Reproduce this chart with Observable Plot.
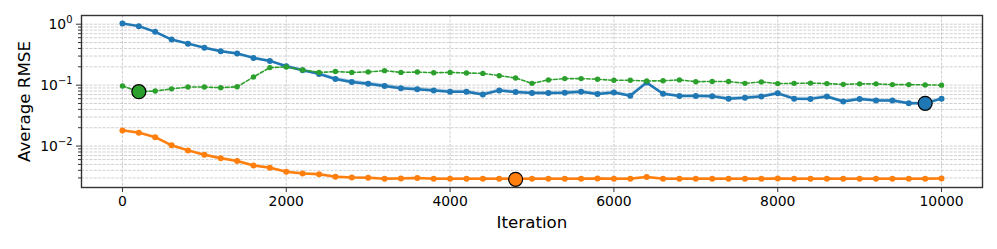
<!DOCTYPE html>
<html>
<head>
<meta charset="utf-8">
<script src="https://cdn.jsdelivr.net/npm/d3@7"></script>
<script src="https://cdn.jsdelivr.net/npm/@observablehq/plot@0.6"></script>
<style>
  html, body { margin: 0; padding: 0; background: #fff; }
  svg { font-family: "DejaVu Sans", sans-serif; }
</style>
</head>
<body>
<div id="chart"></div>
<script>
const iterations = [0,200,400,600,800,1000,1200,1400,1600,1800,2000,2200,2400,2600,2800,3000,3200,3400,3600,3800,4000,4200,4400,4600,4800,5000,5200,5400,5600,5800,6000,6200,6400,6600,6800,7000,7200,7400,7600,7800,8000,8200,8400,8600,8800,9000,9200,9400,9600,9800,10000];

const blueRmse = [1.03,0.93,0.75,0.56,0.48,0.41,0.36,0.33,0.28,0.25,0.204,0.175,0.153,0.126,0.113,0.105,0.097,0.089,0.086,0.082,0.078,0.078,0.070,0.082,0.077,0.0745,0.074,0.075,0.078,0.0717,0.076,0.067,0.110,0.072,0.0665,0.0665,0.066,0.060,0.062,0.065,0.0734,0.060,0.0595,0.065,0.054,0.059,0.056,0.056,0.0503,0.0503,0.060];
const blueLo = [1.00,0.90,0.72,0.54,0.46,0.395,0.345,0.315,0.265,0.238,0.194,0.165,0.143,0.117,0.104,0.097,0.090,0.083,0.080,0.077,0.073,0.073,0.066,0.077,0.072,0.070,0.069,0.070,0.073,0.067,0.071,0.063,0.104,0.068,0.063,0.063,0.062,0.056,0.058,0.061,0.069,0.056,0.056,0.061,0.051,0.055,0.053,0.053,0.047,0.047,0.057];
const blueHi = [1.06,0.96,0.78,0.58,0.50,0.425,0.375,0.345,0.295,0.262,0.214,0.185,0.163,0.135,0.122,0.113,0.104,0.095,0.092,0.087,0.083,0.083,0.074,0.087,0.082,0.079,0.079,0.080,0.083,0.076,0.081,0.071,0.116,0.076,0.070,0.070,0.070,0.064,0.066,0.069,0.078,0.064,0.063,0.069,0.057,0.063,0.059,0.059,0.053,0.053,0.063];

const orangeRmse = [0.0181,0.0166,0.0140,0.0103,0.0085,0.0072,0.0063,0.0057,0.0048,0.0044,0.0038,0.00355,0.00346,0.00313,0.00305,0.00302,0.0029,0.00295,0.0030,0.0029,0.0029,0.0029,0.0029,0.0029,0.0029,0.0029,0.0029,0.0029,0.0029,0.00295,0.0029,0.0029,0.0031,0.0029,0.0029,0.0029,0.0029,0.0029,0.0029,0.0029,0.00295,0.0029,0.0029,0.0029,0.0029,0.0029,0.0029,0.0029,0.0029,0.0029,0.00295];
const orangeLo = [0.0173,0.0158,0.0134,0.0099,0.0081,0.0069,0.0060,0.0055,0.0046,0.0042,0.00365,0.0034,0.00332,0.0030,0.00293,0.0029,0.00279,0.00284,0.00289,0.00279,0.00279,0.00279,0.00279,0.00279,0.00279,0.00279,0.00279,0.00279,0.00279,0.00284,0.00279,0.00279,0.00298,0.00279,0.00279,0.00279,0.00279,0.00279,0.00279,0.00279,0.00284,0.00279,0.00279,0.00279,0.00279,0.00279,0.00279,0.00279,0.00279,0.00279,0.00284];
const orangeHi = [0.0189,0.0173,0.0146,0.0107,0.0088,0.0075,0.0066,0.0059,0.0050,0.0046,0.00395,0.0037,0.0036,0.00326,0.00317,0.00314,0.00302,0.00307,0.00312,0.00302,0.00302,0.00302,0.00302,0.00302,0.00302,0.00302,0.00302,0.00302,0.00302,0.00307,0.00302,0.00302,0.00322,0.00302,0.00302,0.00302,0.00302,0.00302,0.00302,0.00302,0.00307,0.00302,0.00302,0.00302,0.00302,0.00302,0.00302,0.00302,0.00302,0.00302,0.00307];

const greenRmse = [0.097,0.078,0.080,0.087,0.093,0.093,0.091,0.094,0.136,0.194,0.199,0.177,0.162,0.167,0.162,0.165,0.173,0.162,0.164,0.160,0.162,0.158,0.156,0.143,0.131,0.107,0.122,0.128,0.128,0.125,0.120,0.120,0.117,0.118,0.122,0.114,0.115,0.115,0.107,0.113,0.106,0.107,0.108,0.106,0.103,0.105,0.105,0.102,0.102,0.101,0.100];

// highlighted points (iteration, value, series)
const highlightIter = [200, 4800, 9800];
const highlightVal = [0.078, 0.00285, 0.0503];
const highlightColor = ["#2ca02c", "#ff7f0e", "#1f77b4"];

const xTicks = [0,2000,4000,6000,8000,10000];
const yMajor = [1, 0.1, 0.01];
const yMajorBase = "10";
const yMajorExp = ["0", "−1", "−2"];
const yMinor = [0.003,0.004,0.005,0.006,0.007,0.008,0.009,0.02,0.03,0.04,0.05,0.06,0.07,0.08,0.09,0.2,0.3,0.4,0.5,0.6,0.7,0.8,0.9];

const blueRows = iterations.map((it, i) => ({it, v: blueRmse[i], lo: blueLo[i], hi: blueHi[i]}));
const orangeRows = iterations.map((it, i) => ({it, v: orangeRmse[i], lo: orangeLo[i], hi: orangeHi[i]}));
const greenRows = iterations.map((it, i) => ({it, v: greenRmse[i]}));
const hlRows = highlightIter.map((it, i) => ({it, v: highlightVal[i], c: highlightColor[i]}));

const BLUE = "#1f77b4", ORANGE = "#ff7f0e", GREEN = "#2ca02c";
const gridStyle = {stroke: "#b0b0b0", strokeOpacity: 0.75, strokeWidth: 0.8, strokeDasharray: "3,1.3"};

const chart = Plot.plot({
  width: 997,
  height: 249,
  marginLeft: 81,
  marginRight: 15,
  marginTop: 15,
  marginBottom: 62,
  style: {fontFamily: "DejaVu Sans, sans-serif", background: "#fff"},
  x: {domain: [-500, 10500]},
  y: {type: "log", domain: [0.00209, 1.39]},
  marks: [
    Plot.gridY(yMinor.concat(yMajor), gridStyle),
    Plot.gridX(xTicks, gridStyle),
    Plot.areaY(blueRows, {x: "it", y1: "lo", y2: "hi", fill: BLUE, fillOpacity: 0.3}),
    Plot.line(blueRows, {x: "it", y: "v", stroke: BLUE, strokeWidth: 2.5}),
    Plot.dot(blueRows, {x: "it", y: "v", fill: BLUE, r: 3}),
    Plot.areaY(orangeRows, {x: "it", y1: "lo", y2: "hi", fill: ORANGE, fillOpacity: 0.3}),
    Plot.line(orangeRows, {x: "it", y: "v", stroke: ORANGE, strokeWidth: 2.5}),
    Plot.dot(orangeRows, {x: "it", y: "v", fill: ORANGE, r: 3}),
    Plot.line(greenRows, {x: "it", y: "v", stroke: GREEN, strokeWidth: 1.6, strokeDasharray: "3.5,2"}),
    Plot.dot(greenRows, {x: "it", y: "v", fill: GREEN, r: 2.7}),
    Plot.dot(hlRows, {x: "it", y: "v", fill: "c", stroke: "#000", strokeWidth: 1.2, r: 7}),
    Plot.frame({stroke: "#333", strokeWidth: 1.4}),
    Plot.axisX(xTicks, {tickSize: 5, tickPadding: 4, fontSize: 13.9, label: null, stroke: "#333",
      tickFormat: d3.format("d")}),
    Plot.axisY(yMajor, {tickSize: 5, tickPadding: 4, fontSize: 13.9, label: null, stroke: "#333",
      className: "ymajor", tickFormat: (d) => "10^" + yMajorExp[yMajor.indexOf(d)]}),
    Plot.axisY(yMinor, {tickSize: 3, tickFormat: () => "", label: null, stroke: "#333"}),
    Plot.text(["Iteration"], {frameAnchor: "bottom", dy: 40, fontSize: 16.7, fill: "#000"}),
    Plot.text(["Average RMSE"], {frameAnchor: "left", textAnchor: "middle", lineAnchor: "middle",
      dx: -57, rotate: -90, fontSize: 16.7, fill: "#000"})
  ]
});

// render "10^e" tick labels as 10 with a superscript exponent
d3.select(chart).selectAll("text").each(function() {
  const t = d3.select(this);
  const s = t.text();
  const m = /^10\^(.+)$/.exec(s);
  if (!m) return;
  t.text(null);
  t.append("tspan").text(yMajorBase);
  t.append("tspan").attr("font-size", "71%").attr("dy", "-0.55em").text(m[1]);
});

document.getElementById("chart").appendChild(chart);
</script>
</body>
</html>
